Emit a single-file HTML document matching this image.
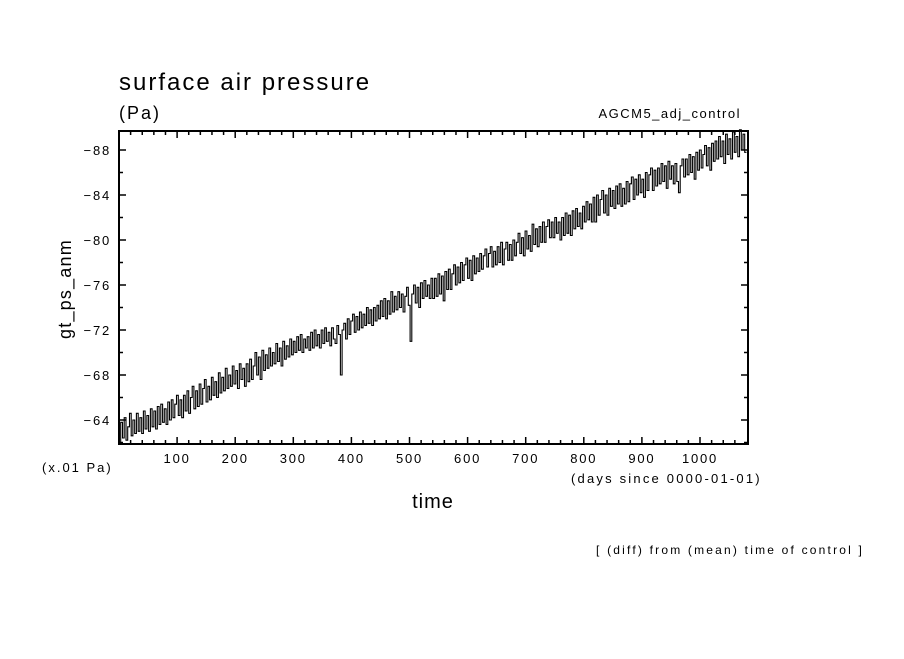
<!DOCTYPE html>
<html><head><meta charset="utf-8"><style>
body{margin:0;background:#fff;}
svg text{font-family:"Liberation Sans",sans-serif;fill:#000;}
</style></head><body>
<svg id="chart" width="904" height="654" xmlns="http://www.w3.org/2000/svg">
<rect width="904" height="654" fill="#fff"/>
<text x="119" y="90" font-size="24" letter-spacing="2">surface air pressure</text>
<text x="119" y="119" font-size="18" letter-spacing="2">(Pa)</text>
<text x="741" y="118" font-size="13" letter-spacing="1.5" text-anchor="end">AGCM5_adj_control</text>
<text x="0" y="0" font-size="18" letter-spacing="1.2" text-anchor="middle" transform="translate(71,289) rotate(-90)">gt_ps_anm</text>
<text x="42" y="472" font-size="13" letter-spacing="2">(x.01 Pa)</text>
<text x="571" y="483" font-size="13" letter-spacing="2.2">(days since 0000-01-01)</text>
<text x="433" y="508" font-size="20" letter-spacing="1" text-anchor="middle">time</text>
<text x="596" y="554" font-size="12" letter-spacing="2.2">[ (diff) from (mean) time of control ]</text>
<g id="ticks"></g>
<path id="series" fill="none" stroke="#000" stroke-width="1.1"/>
<rect x="119" y="131" width="629" height="313" fill="none" stroke="#000" stroke-width="2"/>
</svg>
<script>
const xTicks=[100,200,300,400,500,600,700,800,900,1000];
const yTicks=[-88,-84,-80,-76,-72,-68,-64];
const step=3;
const values=[
-62.0,-63.8,-62.4,-64.2,-62.2,-63.4,-64.6,-62.6,-64.0,-62.8,-64.6,-63.0,-64.2,-62.8,-64.8,-63.2,-64.4,-63.0,-65.0,-63.4,-64.8,-63.2,-65.2,-63.6,-65.4,-63.8,-65.0,-63.6,-65.6,-64.0,-65.8,-64.2,-65.4,-66.2,-64.4,-65.8,
-64.2,-66.2,-64.8,-66.6,-64.6,-66.0,-67.0,-65.0,-66.6,-65.2,-67.2,-65.4,-66.8,-67.6,-65.6,-67.0,-65.8,-67.8,-66.2,-67.4,-66.0,-68.2,-66.4,-67.8,-66.6,-68.6,-66.8,-68.0,-67.0,-68.8,-67.2,-68.4,-66.8,-69.0,-67.6,-68.6,
-67.0,-69.0,-67.4,-69.4,-67.6,-68.8,-70.0,-68.0,-69.6,-67.6,-70.2,-68.4,-69.8,-68.6,-70.4,-68.8,-70.0,-69.0,-70.8,-69.2,-70.4,-68.8,-71.0,-69.4,-70.6,-69.6,-71.2,-69.8,-71.0,-70.0,-71.4,-70.2,-71.6,-70.0,-71.2,-70.4,
-71.4,-70.2,-71.8,-70.4,-72.0,-70.6,-71.6,-70.4,-72.0,-70.8,-72.2,-71.0,-71.8,-70.6,-72.2,-71.2,-70.8,-72.4,-71.6,-68.0,-72.0,-72.6,-71.2,-73.0,-71.6,-72.8,-73.4,-71.8,-73.2,-72.0,-73.6,-72.2,-73.4,-72.4,-74.0,-72.6,
-73.8,-72.4,-74.0,-72.8,-74.2,-73.0,-74.6,-73.2,-74.8,-73.0,-74.6,-73.4,-75.4,-73.6,-75.0,-73.8,-75.4,-74.0,-75.2,-73.6,-75.0,-75.8,-74.2,-71.0,-75.2,-76.0,-74.4,-75.8,-74.0,-76.2,-74.8,-76.4,-75.0,-76.0,-74.8,-76.6,
-74.8,-76.6,-75.0,-77.0,-75.2,-76.8,-74.6,-77.2,-75.6,-77.4,-75.6,-77.0,-77.8,-76.0,-77.6,-76.2,-78.0,-76.4,-77.8,-78.4,-76.6,-78.2,-76.4,-78.6,-77.0,-78.4,-77.2,-78.8,-77.4,-78.6,-79.2,-77.6,-78.8,-79.4,-77.6,-79.0,
-77.8,-79.4,-78.0,-79.8,-77.8,-79.2,-79.8,-78.2,-79.6,-78.2,-80.0,-78.6,-79.8,-80.6,-78.8,-80.2,-78.6,-80.8,-79.2,-80.4,-79.0,-81.4,-79.6,-81.0,-79.4,-81.2,-79.8,-81.6,-79.8,-81.2,-81.8,-80.2,-81.6,-80.2,-82.0,-80.6,
-81.6,-80.0,-82.0,-80.4,-82.4,-80.6,-82.2,-80.4,-82.6,-81.0,-82.8,-81.2,-82.4,-81.0,-83.0,-81.6,-83.4,-81.8,-83.2,-81.6,-83.8,-81.6,-84.0,-82.2,-83.6,-84.4,-82.4,-84.0,-82.2,-84.6,-83.0,-84.4,-82.8,-84.8,-83.2,-85.0,
-83.0,-84.6,-83.2,-85.2,-83.4,-85.0,-85.6,-83.6,-85.4,-84.0,-85.8,-84.2,-85.4,-83.8,-86.0,-84.4,-85.8,-86.4,-84.4,-86.2,-84.8,-86.4,-85.0,-86.8,-85.2,-86.6,-84.6,-87.0,-85.4,-86.6,-85.0,-86.8,-85.2,-84.2,-86.6,-87.2,
-85.6,-87.2,-85.8,-87.6,-86.0,-87.4,-85.4,-87.8,-86.2,-88.0,-86.4,-87.6,-88.4,-86.6,-88.2,-86.2,-88.6,-87.0,-88.8,-87.2,-89.2,-87.4,-88.8,-86.8,-89.4,-87.6,-89.0,-87.2,-89.6,-87.8,-89.2,-87.4,-89.8,-88.0,-89.4,-87.8];
const L=119,R=748,T=131,B=444;
const xS=d=>L+d*0.581;
const yS=v=>150+(v+88)*(270/24);
const NS="http://www.w3.org/2000/svg";
const g=document.getElementById('ticks');
function line(x1,y1,x2,y2){const l=document.createElementNS(NS,'line');l.setAttribute('x1',x1);l.setAttribute('y1',y1);l.setAttribute('x2',x2);l.setAttribute('y2',y2);l.setAttribute('stroke','#000');l.setAttribute('stroke-width','1.5');


g.appendChild(l);}
for(let d=20;d<1080;d+=20){const x=xS(d);const len=d%100===0?7:4;line(x,B,x,B-len);line(x,T,x,T+len);}
for(let v=-88;v<=-62;v+=2){const y=yS(v);const len=v%4===0?7:4;line(L,y,L+len,y);line(R,y,R-len,y);}
xTicks.forEach(d=>{const t=document.createElementNS(NS,'text');t.setAttribute('x',xS(d));t.setAttribute('y',B+19);t.setAttribute('font-size','13');t.setAttribute('letter-spacing','1.8');t.setAttribute('text-anchor','middle');t.textContent=d;


g.appendChild(t);});
yTicks.forEach(v=>{const t=document.createElementNS(NS,'text');t.setAttribute('x',L-8);t.setAttribute('y',yS(v)+5);t.setAttribute('font-size','13');t.setAttribute('letter-spacing','1.8');t.setAttribute('text-anchor','end');t.textContent='\u2212'+Math.abs(v);


g.appendChild(t);});
let d='';
values.forEach((v,i)=>{const x0=xS(i*step),x1=xS(Math.min((i+1)*step,1082)),y=yS(v);d+=(i===0?'M':'L')+x0.toFixed(1)+','+y.toFixed(1)+'L'+x1.toFixed(1)+','+y.toFixed(1);});
document.getElementById('series').setAttribute('d',d);
</script>
</body></html>
